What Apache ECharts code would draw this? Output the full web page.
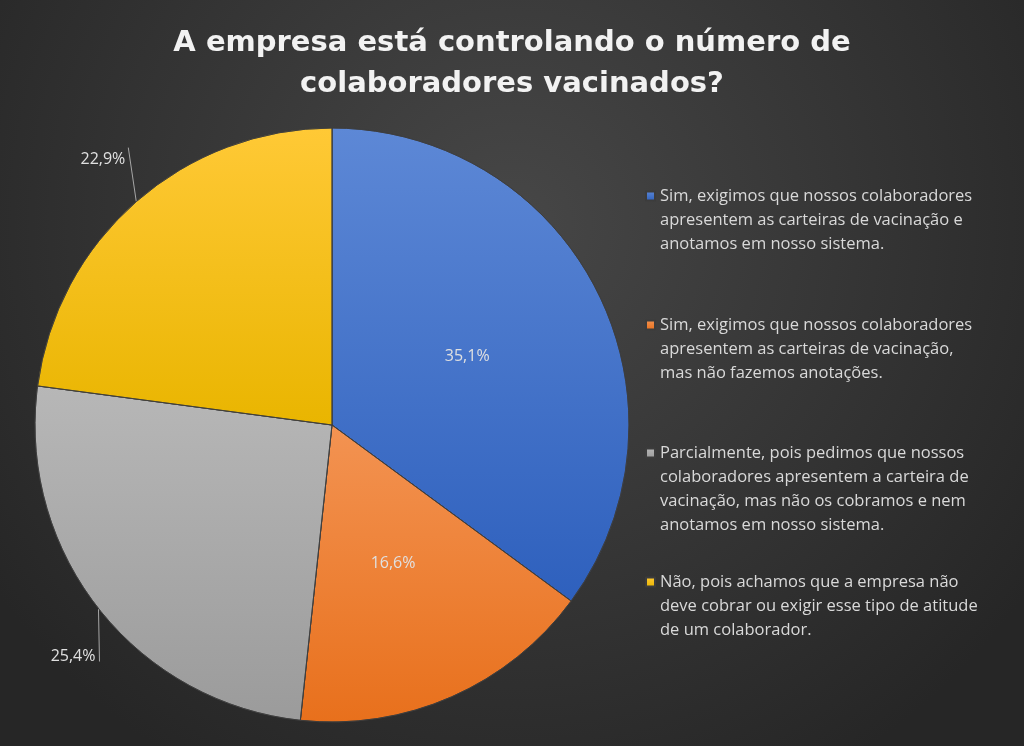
<!DOCTYPE html>
<html>
<head>
<meta charset="utf-8">
<script src="https://cdn.jsdelivr.net/npm/echarts@6/dist/echarts.min.js"></script>
<style>
  html, body { margin: 0; padding: 0; }
  #chart { width: 1024px; height: 746px; }
</style>
</head>
<body>
<div id="chart"></div>
<script>
  // respostas e percentuais
  var categories = [
    'Sim, exigimos que nossos colaboradores\napresentem as carteiras de vacinação e\nanotamos em nosso sistema.',
    'Sim, exigimos que nossos colaboradores\napresentem as carteiras de vacinação,\nmas não fazemos anotações.',
    'Parcialmente, pois pedimos que nossos\ncolaboradores apresentem a carteira de\nvacinação, mas não os cobramos e nem\nanotamos em nosso sistema.',
    'Não, pois achamos que a empresa não\ndeve cobrar ou exigir esse tipo de atitude\nde um colaborador.'
  ];
  var values = [35.1, 16.6, 25.4, 22.9];
  var labelPlaces = ['inside', 'inside', 'outside', 'outside'];

  var colorsTop = ['#5d88d6', '#f39352', '#b7b7b7', '#ffc936'];
  var colorsBottom = ['#2e60bd', '#e8701c', '#9b9b9b', '#e9b500'];
  var firstLineY = [196, 325, 453, 582];
  var lineH = 24;

  var chartDom = document.getElementById('chart');
  var myChart = echarts.init(chartDom);

  var pieData = values.map(function (v, i) {
    return {
      name: categories[i],
      value: v,
      itemStyle: {
        color: new echarts.graphic.LinearGradient(0, 0, 0, 1, [
          { offset: 0, color: colorsTop[i] },
          { offset: 1, color: colorsBottom[i] }
        ])
      },
      label: { position: labelPlaces[i] },
      labelLine: { show: labelPlaces[i] === 'outside' }
    };
  });

  // one legend per answer, blank lines on top so the marker sits on the first line
  var legends = categories.map(function (c, i) {
    var n = c.split('\n').length;
    var pad = '';
    for (var k = 1; k < n; k++) pad += ' \n';
    return {
      data: [c],
      left: 645,
      top: firstLineY[i] - lineH * (2 * n - 1) / 2,
      padding: 0,
      orient: 'vertical',
      icon: 'rect',
      itemWidth: 9,
      itemHeight: 9,
      selectedMode: false,
      formatter: function (name) { return pad + name; },
      textStyle: {
        color: '#d9d9d9',
        fontSize: 16.5,
        fontFamily: 'Open Sans',
        lineHeight: lineH
      }
    };
  });

  var option = {
    backgroundColor: {
      type: 'radial', x: 0.5, y: 0.3, r: 0.85,
      colorStops: [
        { offset: 0, color: '#474747' },
        { offset: 1, color: '#262626' }
      ]
    },
    title: {
      text: 'A empresa está controlando o número de\ncolaboradores vacinados?',
      left: 'center',
      top: 18,
      textStyle: {
        color: '#f2f2f2',
        fontSize: 29,
        fontWeight: 'bold',
        fontFamily: 'DejaVu Sans',
        lineHeight: 41
      }
    },
    legend: legends,
    series: [
      {
        type: 'pie',
        center: [332, 425],
        radius: 297,
        startAngle: 90,
        clockwise: true,
        avoidLabelOverlap: false,
        data: pieData,
        itemStyle: { borderColor: '#3c3c3c', borderWidth: 0.8 },
        label: {
          color: '#e0e0e0',
          fontSize: 16,
          fontFamily: 'Open Sans',
          formatter: function (p) {
            return p.value.toFixed(1).replace('.', ',') + '%';
          }
        },
        labelLine: {
          lineStyle: { color: '#a6a6a6', width: 1 }
        },
        labelLayout: function (params) {
          var p0 = params.labelLinePoints && params.labelLinePoints[0];
          if (!p0) return {};
          if (params.dataIndex === 2) {
            return {
              x: p0[0] - 3, y: p0[1] + 48, align: 'right', verticalAlign: 'middle',
              labelLinePoints: [p0, [p0[0] + 1, p0[1] + 53], [p0[0] + 1, p0[1] + 53]]
            };
          }
          if (params.dataIndex === 3) {
            return {
              x: p0[0] - 11, y: p0[1] - 42, align: 'right', verticalAlign: 'middle',
              labelLinePoints: [p0, [p0[0] - 8, p0[1] - 54], [p0[0] - 8, p0[1] - 54]]
            };
          }
          return {};
        }
      }
    ]
  };

  myChart.setOption(option);
</script>
</body>
</html>
